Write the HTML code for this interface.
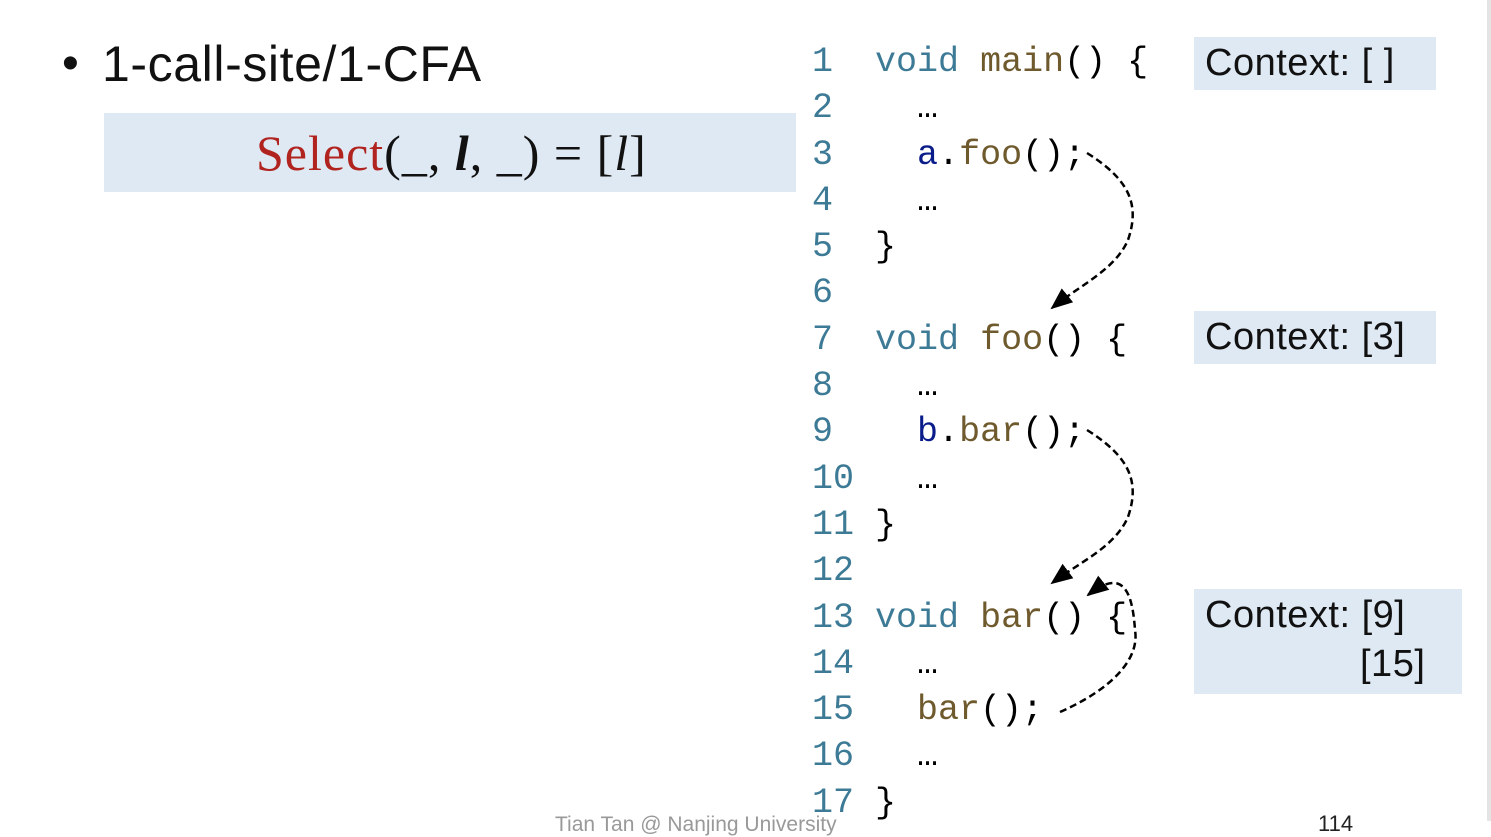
<!DOCTYPE html>
<html><head><meta charset="utf-8"><style>
body{margin:0;width:1491px;height:821px;background:#fff;position:relative;overflow:hidden;font-family:"Liberation Sans",sans-serif}
.a{position:absolute}
.box{position:absolute;background:#dfe9f4}
.code{position:absolute;left:812px;font-family:"Liberation Mono",monospace;font-size:35px;line-height:46.3px;white-space:pre;color:#000;margin:0;top:39px}
.n{color:#3d7a96}.k{color:#3d7a96}.f{color:#6f5a2e}.v{color:#0a1c8a}
.ctx{position:absolute;font-size:38px;color:#111;letter-spacing:0.5px}
</style></head><body>
<div class="a" style="right:0;top:0;width:4px;height:821px;background:#e4e4e4"></div>
<div class="a" style="left:62px;top:36px;font-size:48px;color:#111">•</div>
<div class="a" style="left:102px;top:35px;font-size:50px;color:#111;letter-spacing:0.6px">1-call-site/1-CFA</div>
<div class="box" style="left:104px;top:113px;width:692px;height:79px"></div>
<div class="a" style="left:256px;top:124px;font-family:'Liberation Serif',serif;font-size:50px;color:#111;letter-spacing:1px"><span style="color:#b0231e">Select</span>(_, <b><i>l</i></b>, _) = [<i>l</i>]</div>
<div class="box" style="left:1194px;top:37px;width:242px;height:53px"></div>
<div class="box" style="left:1194px;top:311px;width:242px;height:53px"></div>
<div class="box" style="left:1194px;top:589px;width:268px;height:105px"></div>
<div class="ctx" style="left:1205px;top:42px">Context: [ ]</div>
<div class="ctx" style="left:1205px;top:316px">Context: [3]</div>
<div class="ctx" style="left:1205px;top:594px">Context: [9]</div>
<div class="ctx" style="left:1360px;top:643px">[15]</div>
<div class="a" style="left:555px;top:813px;font-size:21px;color:#999">Tian Tan @ Nanjing University</div>
<div class="a" style="left:1318px;top:811px;font-size:22px;color:#222">114</div>
<pre class="code"><span class="n">1</span>  <span class="k">void</span> <span class="f">main</span>() {
<span class="n">2</span>    …
<span class="n">3</span>    <span class="v">a</span>.<span class="f">foo</span>();
<span class="n">4</span>    …
<span class="n">5</span>  }
<span class="n">6</span>
<span class="n">7</span>  <span class="k">void</span> <span class="f">foo</span>() {
<span class="n">8</span>    …
<span class="n">9</span>    <span class="v">b</span>.<span class="f">bar</span>();
<span class="n">10</span> <span>  …</span>
<span class="n">11</span> }
<span class="n">12</span>
<span class="n">13</span> <span class="k">void</span> <span class="f">bar</span>() {
<span class="n">14</span>   …
<span class="n">15</span>   <span class="f">bar</span>();
<span class="n">16</span>   …
<span class="n">17</span> }</pre>
<svg class="a" style="left:0;top:0" width="1491" height="821">
<defs><marker id="m2" markerWidth="22" markerHeight="22" refX="20" refY="11" orient="auto" markerUnits="userSpaceOnUse"><path d="M0,2L22,11L0,20z" fill="#000"/></marker></defs>
<g fill="none" stroke="#000" stroke-width="2.5" stroke-dasharray="7,4">
<path d="M1087,153 C1130,180 1140,205 1128,240 C1115,270 1080,285 1052,308" marker-end="url(#m2)"/>
<path d="M1087,430 C1130,457 1140,482 1128,517 C1115,547 1080,562 1052,583" marker-end="url(#m2)"/>
<path d="M1060,712 C1110,690 1140,660 1135,630 C1132,585 1120,570 1088,595" marker-end="url(#m2)"/>
</g></svg>
</body></html>
